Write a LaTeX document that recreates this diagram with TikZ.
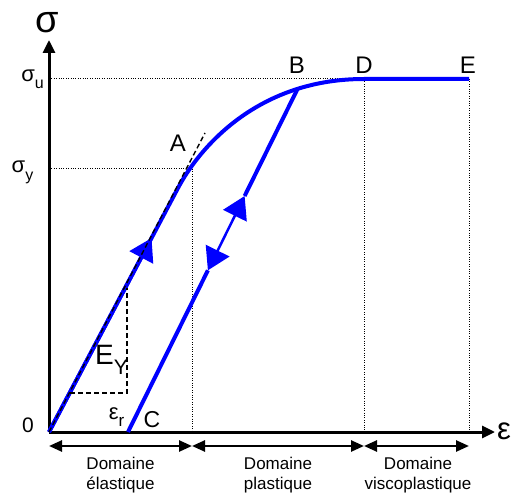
\documentclass[tikz,border=0pt]{standalone}
\usepackage{fontspec}
\setmainfont{Liberation Sans}
\usetikzlibrary{arrows.meta,positioning,calc}

\newcommand{\taille}[1]{\fontsize{#1}{#1}\selectfont}

\begin{document}
\begin{tikzpicture}[x=1pt,y=-1pt,
    courbe/.style={blue,line width=4pt},
    pointille/.style={line width=1pt,dash pattern=on 1pt off 1.4pt},
    tirets/.style={line width=1.4pt,dash pattern=on 5pt off 3pt},
    axe/.style={line width=3pt,-{Triangle[length=13pt,width=12pt]}},
    domaine/.style={line width=2.5pt,{Triangle[length=13pt,width=11pt]}-{Triangle[length=13pt,width=11pt]}},
    fleche/.style={blue,line width=4pt,-{Triangle[length=22pt,width=26pt]}},
    etiq/.style={inner sep=0pt},
    texte/.style={inner sep=0pt,align=center,anchor=north,font=\fontsize{17}{20}\selectfont}]
    \useasboundingbox (0,0) rectangle (515,495);

    % points de la courbe
    \coordinate (origine) at (49,432);
    \coordinate (K) at (178,188);
    \coordinate (A) at (192,169);
    \coordinate (B) at (298,88);
    \coordinate (C) at (128,432);
    \coordinate (D) at (364,79);
    \coordinate (E) at (469,79);
    \coordinate (finY) at (49,40);
    \coordinate (finX) at (495,432);

    % lignes de rappel
    \draw[pointille] (origine |- D) -- (D);
    \draw[pointille] (origine |- A) -- (A);
    \draw[pointille] (A) -- (A |- origine);
    \draw[pointille] (D) -- (D |- origine);
    \draw[pointille] (E) -- (E |- origine);

    % axes
    \draw[axe] (origine) -- (finY);
    \draw[axe] (origine) -- (finX);
    \node[etiq] (sigma) at (47,23) {\taille{38}σ};
    \node[etiq,anchor=west] (epsilon) at (497,431) {\taille{31}ε};
    \node[etiq] (zero) at (28,425) {\taille{21}0};
    \node[etiq] (sigu) at (32.5,79.5) {\taille{22}σ\raisebox{-7pt}{\taille{16}u}};
    \node[etiq] (sigy) at (22.5,172.5) {\taille{22}σ\raisebox{-7.5pt}{\taille{16}y}};

    % courbe de traction
    \draw[courbe] (origine) -- (K) .. controls (197,152) and (254,79) .. (D) -- (E);
    \draw[fleche] (origine) -- ($(origine)!0.795!(K)$);

    % decharge B -> C
    \draw[courbe] (C) -- ($(C)!0.47!(B)$);
    \draw[courbe] ($(C)!0.686!(B)$) -- (B);
    \draw[blue,line width=2.5pt,{Triangle[length=22pt,width=26pt]}-{Triangle[length=22pt,width=26pt]}]
        ($(C)!0.47!(B)$) -- ($(C)!0.686!(B)$);

    % tangente et pente
    \coordinate (T) at (205,133);
    \draw[tirets] (origine) -- (T);
    \coordinate (t1) at (70,393);
    \coordinate (t2) at (127,393);
    \coordinate (t3) at (127,288);
    \draw[tirets] (t1) -- (t2) -- (t3);

    % lettres
    \node[etiq] (lA) at (178,143) {\taille{24}A};
    \node[etiq] (lB) at (297,65) {\taille{24}B};
    \node[etiq] (lD) at (364,65) {\taille{24}D};
    \node[etiq] (lE) at (468,65) {\taille{24}E};
    \node[etiq] (lC) at (152,420) {\taille{23}C};
    \node[etiq] (EY) at (111.5,360) {\taille{28}E\raisebox{-10pt}{\taille{21}Y}};
    \node[etiq] (epsr) at (116.5,417.5) {\taille{22}ε\raisebox{-7pt}{\taille{17}r}};

    % domaines
    \coordinate (b0) at (49,446);
    \coordinate (b1) at (192,446);
    \coordinate (b2) at (364,446);
    \coordinate (b3) at (469,446);
    \draw[domaine] (b0) -- (b1);
    \draw[domaine] (b1) -- (b2);
    \draw[domaine] (b2) -- (b3);
    \node[texte] (dom1) at (120.5,457) {Domaine\\élastique};
    \node[texte] (dom2) at (278,457) {Domaine\\plastique};
    \node[texte] (dom3) at (418,457) {Domaine\\viscoplastique};

\end{tikzpicture}
\end{document}
